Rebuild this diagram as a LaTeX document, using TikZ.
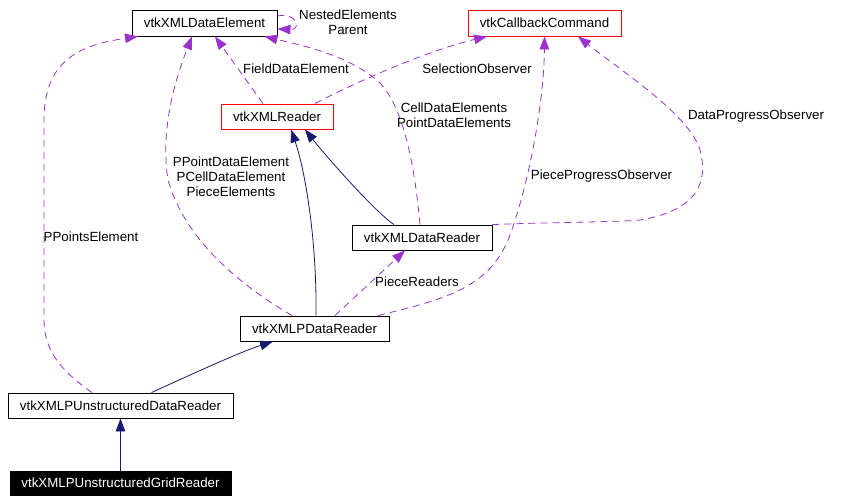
\documentclass[tikz,border=0pt]{standalone}
\usepackage{fontspec}
\setmainfont{Liberation Sans}
\usetikzlibrary{arrows.meta}
\definecolor{edgepurple}{HTML}{9A32CD}
\definecolor{edgenavy}{HTML}{191970}
\begin{document}
\begin{tikzpicture}[x=1pt,y=-1pt,
  every node/.style={font=\fontsize{13.3}{15}\selectfont},
  cls/.style={draw=black,line width=0.9pt,inner sep=0pt,minimum height=25pt},
  redcls/.style={cls,draw=red},
  focus/.style={cls,fill=black,text=white},
  inh/.style={draw=edgenavy,line width=0.8pt,-{Triangle[length=13pt,width=9.5pt]}},
  use/.style={draw=edgepurple,line width=0.8pt,dash pattern=on 7pt off 5pt,-{Triangle[length=13pt,width=9.5pt]}},
  lbl/.style={align=center,inner sep=0pt}]
\useasboundingbox (0,0) rectangle (851,503);
% classes
\node[cls,minimum width=145pt,minimum height=26pt] (de) at (204.5,23) {vtkXMLDataElement};
\node[redcls,minimum width=153pt,minimum height=26pt] (cb) at (544.5,23) {vtkCallbackCommand};
\node[redcls,minimum width=112pt] (xr) at (277,116.5) {vtkXMLReader};
\node[cls,minimum width=140pt] (dr) at (422,237.5) {vtkXMLDataReader};
\node[cls,minimum width=149pt] (pdr) at (314.5,328.5) {vtkXMLPDataReader};
\node[cls,minimum width=225pt] (pud) at (120.5,405.5) {vtkXMLPUnstructuredDataReader};
\node[focus,minimum width=221pt,minimum height=24pt] (pug) at (120.5,483) {vtkXMLPUnstructuredGridReader};
% inheritance
\draw[inh] (pug.north) -- (pud.south);
\draw[inh] ([xshift=31pt]pud.north) .. controls (190,375) and (240,352) .. ([xshift=-41.5pt]pdr.south);
\draw[inh] ([xshift=1.5pt]pdr.north) .. controls (317,240) and (305,170) .. ([xshift=14pt]xr.south);
\draw[inh] ([xshift=-28pt]dr.north) .. controls (375,212) and (325,155) .. ([xshift=28pt]xr.south);
% usage
\draw[use] ([xshift=20.5pt]pdr.north) -- ([xshift=-17pt]dr.south);
\draw[use] ([xshift=63.5pt]pdr.north) .. controls (440,300) and (490,290) .. (510,235)
  .. controls (530,180) and (544,100) .. (cb.south);
\draw[use] (dr.north east) .. controls (560,222) and (620,222) .. (640,220)
  .. controls (700,210) and (708,180) .. (700,150)
  .. controls (690,115) and (620,70) .. ([xshift=33.5pt]cb.south);
\draw[use] ([xshift=-2pt]dr.north) .. controls (415,170) and (405,110) .. (380,83)
  .. controls (350,55) and (300,45) .. ([xshift=60pt]de.south);
\draw[use] ([xshift=-14pt]xr.north) -- ([xshift=10.5pt]de.south);
\draw[use] ([xshift=38pt]xr.north) .. controls (360,80) and (430,50) .. ([xshift=-57.5pt]cb.south);
\draw[use] ([xshift=-22.5pt]pdr.north) .. controls (240,285) and (185,240) .. (168,180)
  .. controls (160,130) and (175,80) .. ([xshift=-12.5pt]de.south);
\draw[use] ([xshift=-28.5pt]pud.north) .. controls (60,370) and (44,350) .. (44,320)
  -- (44,120) .. controls (44,60) and (80,45) .. ([xshift=-66.5pt]de.south);
\draw[use] ([yshift=7pt]de.east) .. controls (297,12) and (302,30) .. ([yshift=-6pt]de.east);
% labels
\node[lbl] (l1) at (348,22.5) {NestedElements\\Parent};
\node[lbl] (l2) at (296,69) {FieldDataElement};
\node[lbl] (l3) at (477,69) {SelectionObserver};
\node[lbl] (l4) at (454,115.5) {CellDataElements\\PointDataElements};
\node[lbl] (l5) at (756,116) {DataProgressObserver};
\node[lbl] (l6) at (601.5,176) {PieceProgressObserver};
\node[lbl] (l7) at (231,176.5) {PPointDataElement\\PCellDataElement\\PieceElements};
\node[lbl] (l8) at (91,237) {PPointsElement};
\node[lbl] (l9) at (417,282) {PieceReaders};
\end{tikzpicture}
\end{document}
